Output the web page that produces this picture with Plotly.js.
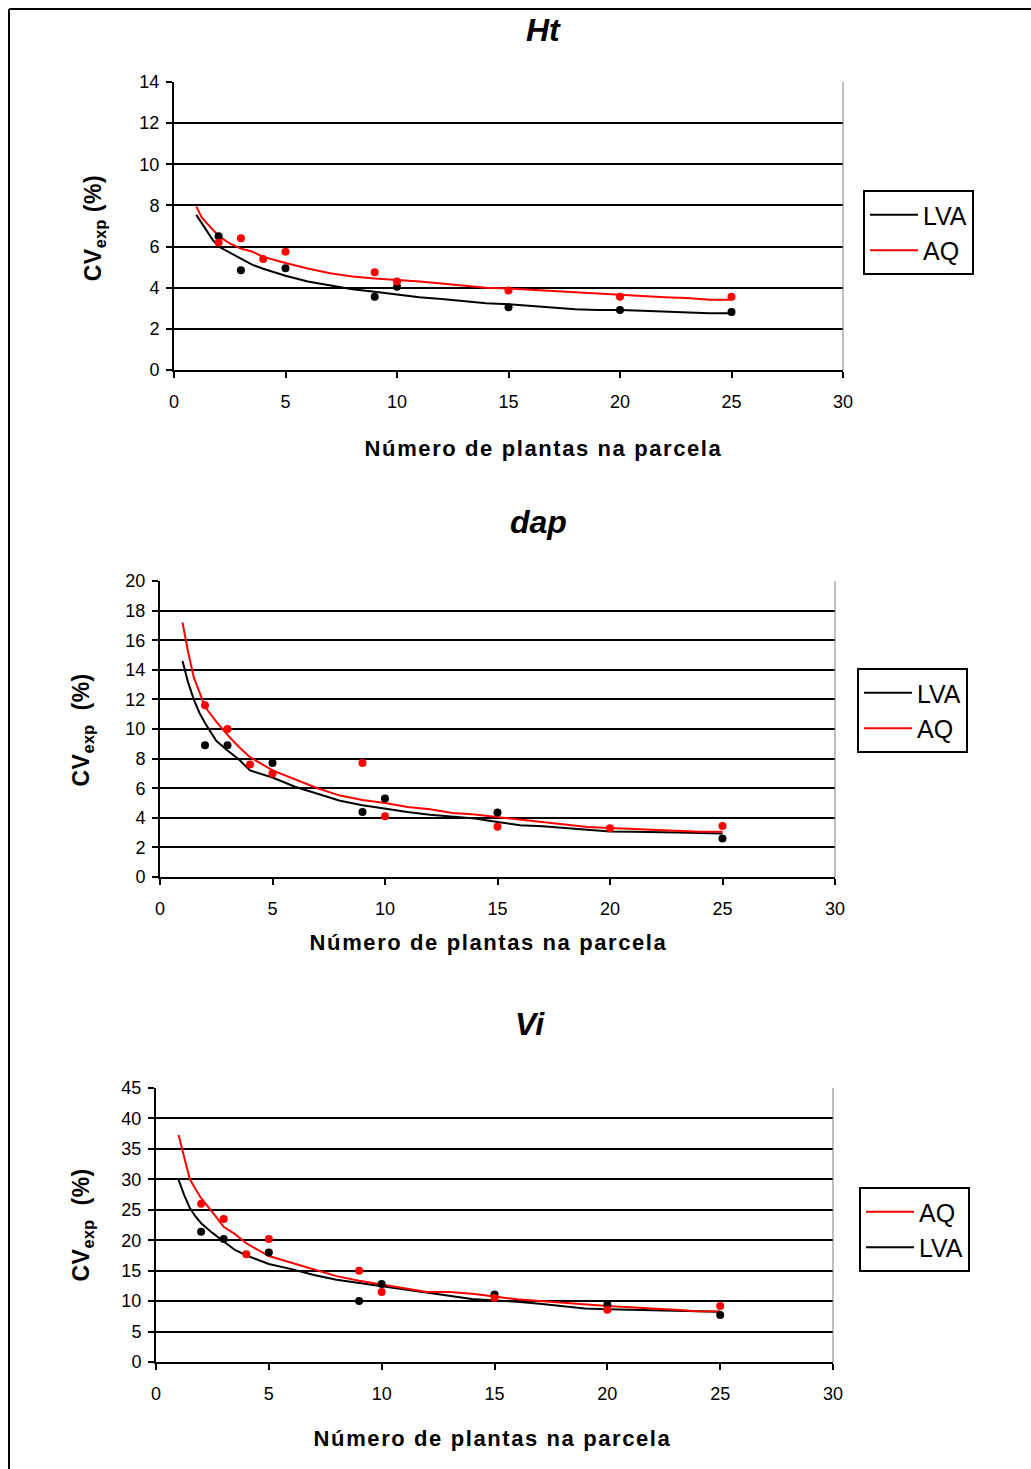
<!DOCTYPE html>
<html>
<head>
<meta charset="utf-8">
<script src="https://cdn.plot.ly/plotly-3.0.1.min.js"></script>
<style>
html,body{margin:0;padding:0;background:#fff;}
#chart{width:1031px;height:1469px;}
</style>
</head>
<body>
<div id="chart"></div>
<script>
// ---------- data ----------
var curveX = [1,1.25,1.5,1.75,2,2.5,3,3.5,4,5,6,7,8,9,10,11,12,13,14,15,16,17,18,19,20,21,22,23,24,25];

// Ht
var htCurveLVA = [7.54,7.12,6.7,6.3,6.0,5.7,5.42,5.12,4.92,4.58,4.30,4.10,3.93,3.80,3.66,3.54,3.45,3.35,3.25,3.20,3.12,3.03,2.95,2.92,2.92,2.88,2.84,2.80,2.76,2.76];
var htCurveAQ  = [7.94,7.4,7.1,6.82,6.52,6.15,5.9,5.76,5.5,5.20,4.93,4.70,4.55,4.45,4.38,4.30,4.20,4.10,4.00,3.96,3.90,3.82,3.75,3.70,3.65,3.60,3.54,3.50,3.42,3.42];
var htPtsLVAx = [2,3,5,9,10,15,20,25];
var htPtsLVAy = [6.5,4.85,4.95,3.56,4.05,3.05,2.92,2.82];
var htPtsAQx  = [2,3,4,5,9,10,15,20,25];
var htPtsAQy  = [6.2,6.4,5.4,5.75,4.75,4.3,3.86,3.56,3.56];

// dap
var dapCurveLVA = [14.6,13.15,12.0,11.1,10.4,9.2,8.55,7.95,7.2,6.72,6.1,5.62,5.15,4.85,4.6,4.39,4.2,4.1,3.95,3.72,3.5,3.43,3.3,3.16,3.08,3.06,3.05,3.01,2.97,2.94];
var dapCurveAQ  = [17.2,15.2,13.5,12.45,11.5,10.5,9.6,8.8,8.1,7.2,6.6,6.0,5.5,5.2,5.0,4.73,4.58,4.33,4.22,4.05,3.88,3.72,3.55,3.38,3.31,3.24,3.17,3.08,3.06,3.05];
var dapPtsLVAx = [2,3,5,9,10,15,25];
var dapPtsLVAy = [8.9,8.9,7.7,4.4,5.3,4.35,2.6];
var dapPtsAQx  = [2,3,4,5,9,10,15,20,25];
var dapPtsAQy  = [11.6,10.0,7.6,7.0,7.7,4.1,3.4,3.3,3.45];

// Vi
var viCurveLVA = [29.9,27.4,25.3,23.9,22.8,21.2,19.8,18.4,17.5,16.1,15.25,14.3,13.5,12.97,12.37,11.83,11.38,10.8,10.35,10.1,9.9,9.55,9.15,8.8,8.68,8.6,8.52,8.42,8.32,8.26];
var viCurveAQ  = [37.3,33.6,30.0,28.4,26.9,24.6,22.2,21.0,19.5,17.4,16.3,15.3,14.1,13.35,12.7,12.1,11.5,11.5,11.2,10.75,10.3,10.0,9.7,9.45,9.2,9.0,8.85,8.6,8.35,8.3];
var viPtsLVAx = [2,3,5,9,10,15,20,25];
var viPtsLVAy = [21.4,20.2,18.0,10.0,12.8,11.1,9.4,7.7];
var viPtsAQx  = [2,3,4,5,9,10,15,20,25];
var viPtsAQy  = [26.0,23.5,17.7,20.2,15.0,11.5,10.5,8.6,9.2];

var xTicks = [0,5,10,15,20,25,30];
var seriesNames = ['LVA','AQ'];
var titles = ['Ht','dap','Vi'];
var xTitle = 'Número de plantas na parcela';

// ---------- build ----------
var FONT = 'Liberation Sans, Arial, Helvetica, sans-serif';
var BLACK = '#000000', RED = '#ff0000';
var W = 1031, H = 1469;
function px(x){return x/W;}
function py(y){return 1 - y/H;}

var panels = [
  {xa:'x', ya:'y', leg:'legend', cl:htCurveLVA, ca:htCurveAQ, plx:htPtsLVAx, ply:htPtsLVAy, pax:htPtsAQx, pay:htPtsAQy, rankLVA:1, rankAQ:2},
  {xa:'x2', ya:'y2', leg:'legend2', cl:dapCurveLVA, ca:dapCurveAQ, plx:dapPtsLVAx, ply:dapPtsLVAy, pax:dapPtsAQx, pay:dapPtsAQy, rankLVA:1, rankAQ:2},
  {xa:'x3', ya:'y3', leg:'legend3', cl:viCurveLVA, ca:viCurveAQ, plx:viPtsLVAx, ply:viPtsLVAy, pax:viPtsAQx, pay:viPtsAQy, rankLVA:2, rankAQ:1}
];

var traces = [];
panels.forEach(function(p, i){
  traces.push({x:curveX, y:p.cl, xaxis:p.xa, yaxis:p.ya, mode:'lines', name:seriesNames[0],
    line:{color:BLACK, width:2}, legend:p.leg, legendrank:p.rankLVA, legendgroup:'g'+i+'a', hoverinfo:'skip'});
  traces.push({x:curveX, y:p.ca, xaxis:p.xa, yaxis:p.ya, mode:'lines', name:seriesNames[1],
    line:{color:RED, width:2}, legend:p.leg, legendrank:p.rankAQ, legendgroup:'g'+i+'b', hoverinfo:'skip'});
  traces.push({x:p.plx, y:p.ply, xaxis:p.xa, yaxis:p.ya, mode:'markers', showlegend:false,
    marker:{color:BLACK, size:8}, hoverinfo:'skip'});
  traces.push({x:p.pax, y:p.pay, xaxis:p.xa, yaxis:p.ya, mode:'markers', showlegend:false,
    marker:{color:RED, size:8}, hoverinfo:'skip'});
});

function xaxis(dom, anchor){
  return {domain:dom, anchor:anchor, range:[0,30], tickvals:xTicks, showgrid:false, zeroline:false,
    showline:true, linecolor:BLACK, linewidth:2, ticks:'outside', ticklen:6, tickwidth:2, tickcolor:BLACK,
    tickfont:{family:FONT, size:18, color:BLACK}, ticklabelstandoff:8, fixedrange:true};
}
function yaxis(dom, anchor, max, dt){
  return {domain:dom, anchor:anchor, range:[0,max], dtick:dt, tick0:0, showgrid:true, gridcolor:BLACK, gridwidth:2,
    zeroline:false, showline:true, linecolor:BLACK, linewidth:2, ticks:'outside', ticklen:6, tickwidth:2, tickcolor:BLACK,
    tickfont:{family:FONT, size:18, color:BLACK}, ticklabelstandoff:3, fixedrange:true};
}

function legend(x, y){
  return {x:x, y:y, xanchor:'left', yanchor:'top', xref:'paper', yref:'paper', bgcolor:'#ffffff',
    bordercolor:BLACK, borderwidth:2, font:{family:FONT, size:25, color:BLACK},
    traceorder:'grouped', tracegroupgap:0, itemwidth:48};
}

var annotations = [];
var titlePos = [[543,30],[538,522],[530,1024]];
titles.forEach(function(t,i){
  annotations.push({text:'<b><i>'+t+'</i></b>', xref:'paper', yref:'paper', x:px(titlePos[i][0]), y:py(titlePos[i][1]),
    xanchor:'center', yanchor:'middle', showarrow:false,
    font:{family:'Liberation Sans Narrow, Arial Narrow, Liberation Sans, Arial, sans-serif', size:32, color:BLACK}});
});
var xtPos = [[544,448],[489,942],[493,1438]];
xtPos.forEach(function(p){
  annotations.push({text:'<b>'+xTitle+'</b>', xref:'paper', yref:'paper', x:px(p[0]), y:py(p[1]),
    xanchor:'center', yanchor:'middle', showarrow:false, font:{family:FONT, size:22, color:BLACK}});
});
var ytPos = [[95,228,'CV<sub>exp</sub> (%)'],[82,730,'CV<sub>exp</sub>&nbsp; (%)'],[82,1225,'CV<sub>exp</sub>&nbsp; (%)']];
ytPos.forEach(function(p){
  annotations.push({text:'<b>'+p[2]+'</b>', xref:'paper', yref:'paper', x:px(p[0]), y:py(p[1]),
    xanchor:'center', yanchor:'middle', showarrow:false, textangle:-90, font:{family:FONT, size:23, color:BLACK}});
});

var shapes = [
  {type:'line', xref:'paper', yref:'paper', x0:px(9), x1:px(9), y0:py(9), y1:0, line:{color:BLACK, width:2}},
  {type:'line', xref:'paper', yref:'paper', x0:px(9), x1:1, y0:py(9), y1:py(9), line:{color:BLACK, width:2}}
];
[['x','y'],['x2','y2'],['x3','y3']].forEach(function(a){
  shapes.push({type:'line', xref:a[0]+' domain', yref:a[1]+' domain', x0:1, x1:1, y0:0, y1:1, line:{color:'#808080', width:1}, layer:'above'});
});

var layout = {
  width:W, height:H, margin:{l:0, r:0, t:0, b:0}, paper_bgcolor:'#ffffff', plot_bgcolor:'#ffffff',
  font:{family:FONT, color:BLACK}, showlegend:true,
  xaxis: xaxis([px(174), px(843)], 'y'),
  yaxis: yaxis([py(370), py(82)], 'x', 14, 2),
  xaxis2: xaxis([px(160), px(835)], 'y2'),
  yaxis2: yaxis([py(877), py(581)], 'x2', 20, 2),
  xaxis3: xaxis([px(156), px(833)], 'y3'),
  yaxis3: yaxis([py(1362), py(1088)], 'x3', 45, 5),
  legend: legend(px(863), py(190)),
  legend2: legend(px(857), py(668)),
  legend3: legend(px(859), py(1187)),
  annotations: annotations,
  shapes: shapes
};

Plotly.newPlot('chart', traces, layout, {displayModeBar:false, staticPlot:true}).then(function(){
  var nodes = document.querySelectorAll('text.annotation-text');
  nodes.forEach(function(n){
    var t = n.textContent || '';
    if (t.indexOf('Número') >= 0) { n.style.letterSpacing = '1.6px'; }
    else if (t.indexOf('CV') >= 0) { n.style.letterSpacing = '0.5px'; }
  });
});
</script>
</body>
</html>
